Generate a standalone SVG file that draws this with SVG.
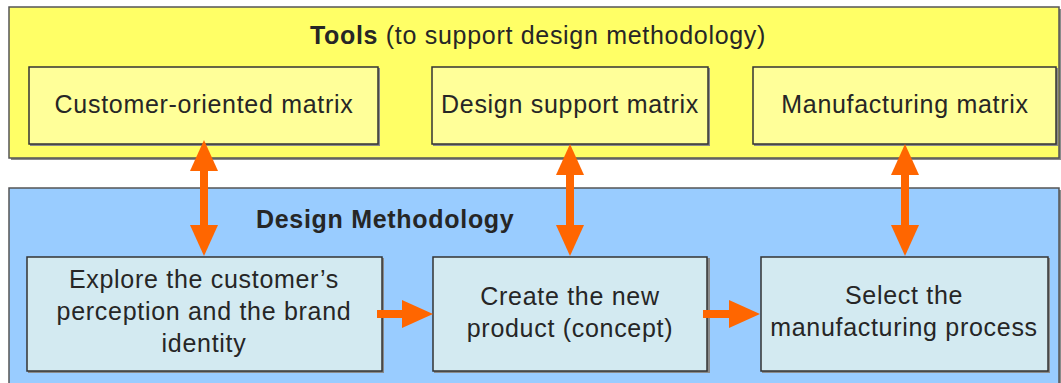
<svg xmlns="http://www.w3.org/2000/svg" width="1061" height="383" viewBox="0 0 1061 383">
<style>
  text { font-family: "Liberation Sans", Arial, sans-serif; font-size: 25px; letter-spacing: 0.7px; fill: #262626; }
  .c { text-anchor: middle; }
  .b { font-weight: bold; }
  .shadow { fill: #8a8a8a; }
  .outerY { fill: #FFFF66; stroke: #555; stroke-width: 1.5; }
  .outerB { fill: #99CCFF; stroke: #555; stroke-width: 1.5; }
  .tool { fill: #FFFF99; stroke: #333; stroke-width: 1.5; }
  .step { fill: #D3EAF1; stroke: #333; stroke-width: 1.5; }
  .arr { stroke: #FF6600; stroke-width: 8; fill: none; }
</style>
<defs>
  <marker id="head" markerUnits="userSpaceOnUse" markerWidth="31" markerHeight="28" viewBox="0 0 31 28" refX="2" refY="14" orient="auto-start-reverse">
    <path d="M0,0 L31,14 L0,28 Z" fill="#FF6600"/>
  </marker>
</defs>
<rect width="1061" height="383" fill="#ffffff"/>

<g id="tools">
  <rect class="shadow" x="11" y="9" width="1051" height="151"/>
  <rect class="outerY" x="9" y="7" width="1050" height="151"/>
  <text class="c" x="538" y="44"><tspan class="b">Tools</tspan> (to support design methodology)</text>
</g>
<g id="customer-matrix">
  <rect class="shadow" x="30" y="68" width="350" height="78"/>
  <rect class="tool" x="29" y="67" width="349" height="77"/>
  <text class="c" x="204" y="113">Customer-oriented matrix</text>
</g>
<g id="design-matrix">
  <rect class="shadow" x="433" y="68" width="277" height="78"/>
  <rect class="tool" x="432" y="67" width="276" height="77"/>
  <text class="c" x="570" y="113">Design support matrix</text>
</g>
<g id="manufacturing-matrix">
  <rect class="shadow" x="754" y="68" width="304" height="78"/>
  <rect class="tool" x="753" y="67" width="303" height="77"/>
  <text class="c" x="905" y="113">Manufacturing matrix</text>
</g>

<g id="methodology">
  <rect class="shadow" x="11" y="190" width="1051" height="200"/>
  <rect class="outerB" x="9" y="188" width="1050" height="200"/>
  <text class="b" x="256" y="228">Design Methodology</text>
</g>
<g id="explore">
  <rect class="shadow" x="28" y="258" width="356" height="115"/>
  <rect class="step" x="27" y="257" width="355" height="114"/>
  <text class="c" x="204" y="288">Explore the customer’s</text>
  <text class="c" x="204" y="320">perception and the brand</text>
  <text class="c" x="204" y="352">identity</text>
</g>
<g id="create">
  <rect class="shadow" x="434" y="258" width="276" height="115"/>
  <rect class="step" x="433" y="257" width="274" height="114"/>
  <text class="c" x="570" y="305">Create the new</text>
  <text class="c" x="570" y="337">product (concept)</text>
</g>
<g id="select">
  <rect class="shadow" x="762" y="258" width="288" height="115"/>
  <rect class="step" x="761" y="257" width="287" height="114"/>
  <text class="c" x="904" y="304">Select the</text>
  <text class="c" x="904" y="336">manufacturing process</text>
</g>

<g id="connectors">
  <line class="arr" x1="204" y1="169" x2="204" y2="227" marker-start="url(#head)" marker-end="url(#head)"/>
  <line class="arr" x1="570" y1="173" x2="570" y2="227" marker-start="url(#head)" marker-end="url(#head)"/>
  <line class="arr" x1="905" y1="173" x2="905" y2="227" marker-start="url(#head)" marker-end="url(#head)"/>
  <line class="arr" x1="377" y1="314" x2="404" y2="314" marker-end="url(#head)"/>
  <line class="arr" x1="703" y1="314" x2="731" y2="314" marker-end="url(#head)"/>
</g>
</svg>
